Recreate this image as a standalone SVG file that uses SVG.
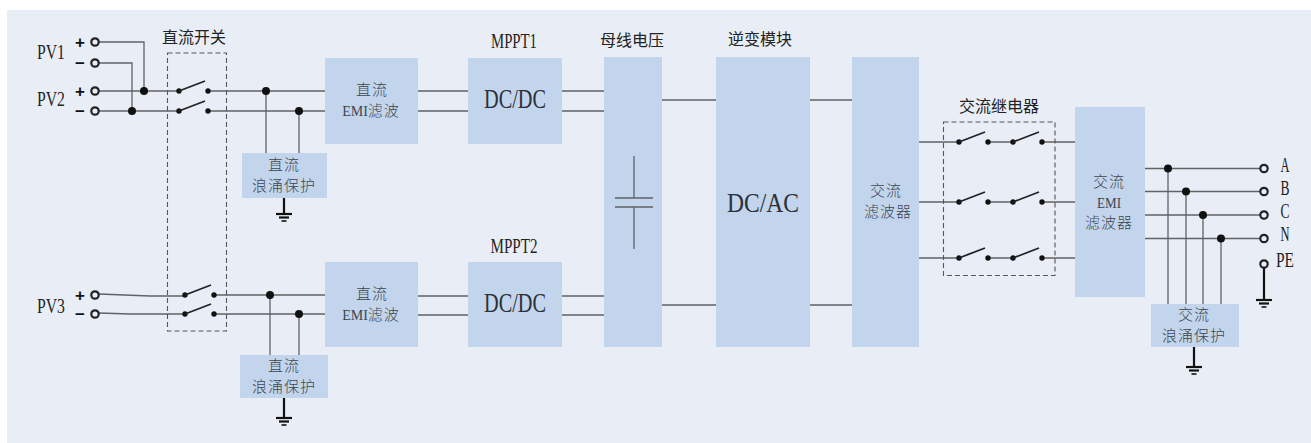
<svg xmlns="http://www.w3.org/2000/svg" width="1311" height="443" viewBox="0 0 1311 443">
<style>
.box{fill:#c3d5ec}
.w{fill:none;stroke:#5f6367;stroke-width:1.3}
.g{fill:none;stroke:#111;stroke-width:1.6}
.gt{fill:none;stroke:#111;stroke-width:2.2}
.bl{fill:none;stroke:#222;stroke-width:1.8}
.d{fill:none;stroke:#555;stroke-width:1.1;stroke-dasharray:5 3}
.t{fill:none;stroke:#222;stroke-width:2.2}
.j{fill:#111}
text{font-family:"Noto Sans CJK SC","Liberation Serif",serif;fill:#333;text-anchor:middle}
.cn{font-size:15px;font-weight:300;fill:#3d4650;letter-spacing:1px}
.h{font-size:16px;font-weight:400;fill:#222}
.l{font-family:"Liberation Serif",serif;font-size:20px;fill:#222}
.m{font-family:"Liberation Serif",serif;font-size:15px;fill:#3d4650}
.big{font-family:"Liberation Serif",serif;font-size:28px;fill:#2b3138}
.s{font-family:"Liberation Sans",sans-serif;font-size:17px;font-weight:700;fill:#111}
</style>
<defs>
<g id="gnd"><path class="gt" d="M-8 0H8"/><path class="gt" d="M-5 3.5H5"/><path class="g" d="M-2.500 7H2.500"/></g>
<g id="sw"><circle class="j" cx="0" cy="0" r="2.700"/><circle class="j" cx="29" cy="0" r="2.700"/><path class="bl" d="M0 0L26 -10"/></g>
<circle id="term" class="t" r="3.700"/>
</defs>
<rect x="7" y="10" width="1304" height="433" fill="#e9eef6"/>

<g id="connectors">
<path class="w" d="M99 42H144V91M99 63H132V111"/>
<path class="w" d="M99 91H179M208 91H325M99 111H179M208 111H325"/>
<path class="w" d="M266 91V153M299 111V153"/>
<path class="w" d="M99 294L150 296H185M214 295H325M99 313L130 314H185M214 314H325"/>
<path class="w" d="M270 295V355M299 314V355"/>
<path class="w" d="M418 91H468M418 111H468M562 91H604M562 111H604"/>
<path class="w" d="M418 296H468M418 315H468M562 296H604M562 315H604"/>
<path class="w" d="M662 100H716M662 305H716M810 100H852M810 305H852"/>
<path class="w" d="M919 142H959M988 142H1013M1042 142H1075M919 202H959M988 202H1013M1042 202H1075M919 258H959M988 258H1013M1042 258H1075"/>
<path class="w" d="M1144 168.500H1260M1144 191.500H1260M1144 215H1260M1144 238.500H1260"/>
<path class="w" d="M1168 168.500V304M1186 191.500V304M1203 215V304M1221 238.500V304"/>
<path class="gt" d="M284 198V214M284 398V418M1194 347V367M1264 268V300"/>
<g class="j"><circle cx="144" cy="91" r="4"/><circle cx="132" cy="111" r="4"/><circle cx="266" cy="91" r="4"/><circle cx="299" cy="111" r="4"/><circle cx="270" cy="295" r="4"/><circle cx="299" cy="314" r="4"/><circle cx="1168" cy="168.500" r="4"/><circle cx="1186" cy="191.500" r="4"/><circle cx="1203" cy="215" r="4"/><circle cx="1221" cy="238.500" r="4"/></g>
<use href="#gnd" x="284" y="214"/><use href="#gnd" x="284" y="418"/><use href="#gnd" x="1194" y="367"/><use href="#gnd" x="1264" y="300"/>
</g>

<g id="pv-inputs">
<text class="l" x="51" y="59" textLength="28" lengthAdjust="spacingAndGlyphs">PV1</text><text class="l" x="51" y="106" textLength="28" lengthAdjust="spacingAndGlyphs">PV2</text><text class="l" x="51" y="313" textLength="28" lengthAdjust="spacingAndGlyphs">PV3</text>
<text class="s" x="80" y="48">+</text><text class="s" x="80" y="69">−</text><text class="s" x="80" y="97">+</text><text class="s" x="80" y="117">−</text><text class="s" x="80" y="301">+</text><text class="s" x="80" y="320">−</text>
<use href="#term" x="95" y="42"/><use href="#term" x="95" y="63"/><use href="#term" x="95" y="91"/><use href="#term" x="95" y="111"/><use href="#term" x="95" y="295"/><use href="#term" x="95" y="314"/>
</g>

<g id="dc-switch">
<text class="h" x="194" y="43">直流开关</text>
<rect class="d" x="167.500" y="53" width="59" height="278"/>
<use href="#sw" x="179" y="91"/><use href="#sw" x="179" y="111"/><use href="#sw" x="185" y="295"/><use href="#sw" x="185" y="314"/>
</g>

<g id="dc-spd-1"><rect class="box" x="242" y="153" width="85" height="45"/><text class="cn" x="284" y="170">直流</text><text class="cn" x="284" y="191">浪涌保护</text></g>
<g id="dc-spd-2"><rect class="box" x="240" y="355" width="88" height="43"/><text class="cn" x="284" y="371">直流</text><text class="cn" x="284" y="392">浪涌保护</text></g>

<g id="emi-1"><rect class="box" x="325" y="58" width="93" height="86"/><text class="cn" x="372" y="95">直流</text><text class="cn" x="371" y="116"><tspan class="m" style="letter-spacing:0;font-size:14px">EMI</tspan>滤波</text></g>
<g id="emi-2"><rect class="box" x="325" y="262" width="93" height="85"/><text class="cn" x="372" y="299">直流</text><text class="cn" x="371" y="320"><tspan class="m" style="letter-spacing:0;font-size:14px">EMI</tspan>滤波</text></g>

<g id="dcdc-1"><text class="l" x="514" y="48" textLength="46" lengthAdjust="spacingAndGlyphs">MPPT1</text><rect class="box" x="468" y="58" width="94" height="86"/><text class="big" x="515" y="108" textLength="62" lengthAdjust="spacingAndGlyphs">DC/DC</text></g>
<g id="dcdc-2"><text class="l" x="514" y="253" textLength="47" lengthAdjust="spacingAndGlyphs">MPPT2</text><rect class="box" x="468" y="262" width="94" height="85"/><text class="big" x="515" y="312" textLength="62" lengthAdjust="spacingAndGlyphs">DC/DC</text></g>

<g id="bus"><text class="h" x="632" y="46">母线电压</text><rect class="box" x="604" y="57" width="58" height="290"/><path class="w" d="M634 156V198M615 198H653M615 207H653M634 207V249"/></g>

<g id="inverter"><text class="h" x="760" y="45">逆变模块</text><rect class="box" x="716" y="57" width="94" height="290"/><text class="big" x="763" y="212" textLength="72" lengthAdjust="spacingAndGlyphs">DC/AC</text></g>

<g id="ac-filter"><rect class="box" x="852" y="57" width="67" height="290"/><text class="cn" x="886" y="196">交流</text><text class="cn" x="888" y="217">滤波器</text></g>

<g id="ac-relay">
<text class="h" x="999" y="112">交流继电器</text>
<rect class="d" x="943.500" y="122" width="111.500" height="153.500"/>
<use href="#sw" x="959" y="142"/><use href="#sw" x="1013" y="142"/><use href="#sw" x="959" y="202"/><use href="#sw" x="1013" y="202"/><use href="#sw" x="959" y="258"/><use href="#sw" x="1013" y="258"/>
</g>

<g id="ac-emi"><rect class="box" x="1075" y="107" width="70" height="190"/><text class="cn" x="1109" y="187">交流</text><text class="m" x="1109" y="207.500" textLength="24" lengthAdjust="spacingAndGlyphs">EMI</text><text class="cn" x="1109" y="228">滤波器</text></g>

<g id="ac-spd"><rect class="box" x="1151" y="304" width="88" height="43"/><text class="cn" x="1194" y="320">交流</text><text class="cn" x="1194" y="341">浪涌保护</text></g>

<g id="ac-outputs">
<use href="#term" x="1264" y="168.500"/><use href="#term" x="1264" y="191.500"/><use href="#term" x="1264" y="215"/><use href="#term" x="1264" y="238.500"/><use href="#term" x="1264" y="264"/>
<text class="l" x="1285" y="172" textLength="9" lengthAdjust="spacingAndGlyphs">A</text><text class="l" x="1285" y="195" textLength="9" lengthAdjust="spacingAndGlyphs">B</text><text class="l" x="1285" y="218" textLength="9" lengthAdjust="spacingAndGlyphs">C</text><text class="l" x="1285" y="241" textLength="9" lengthAdjust="spacingAndGlyphs">N</text><text class="l" x="1285" y="267" textLength="18" lengthAdjust="spacingAndGlyphs">PE</text>
</g>
</svg>
